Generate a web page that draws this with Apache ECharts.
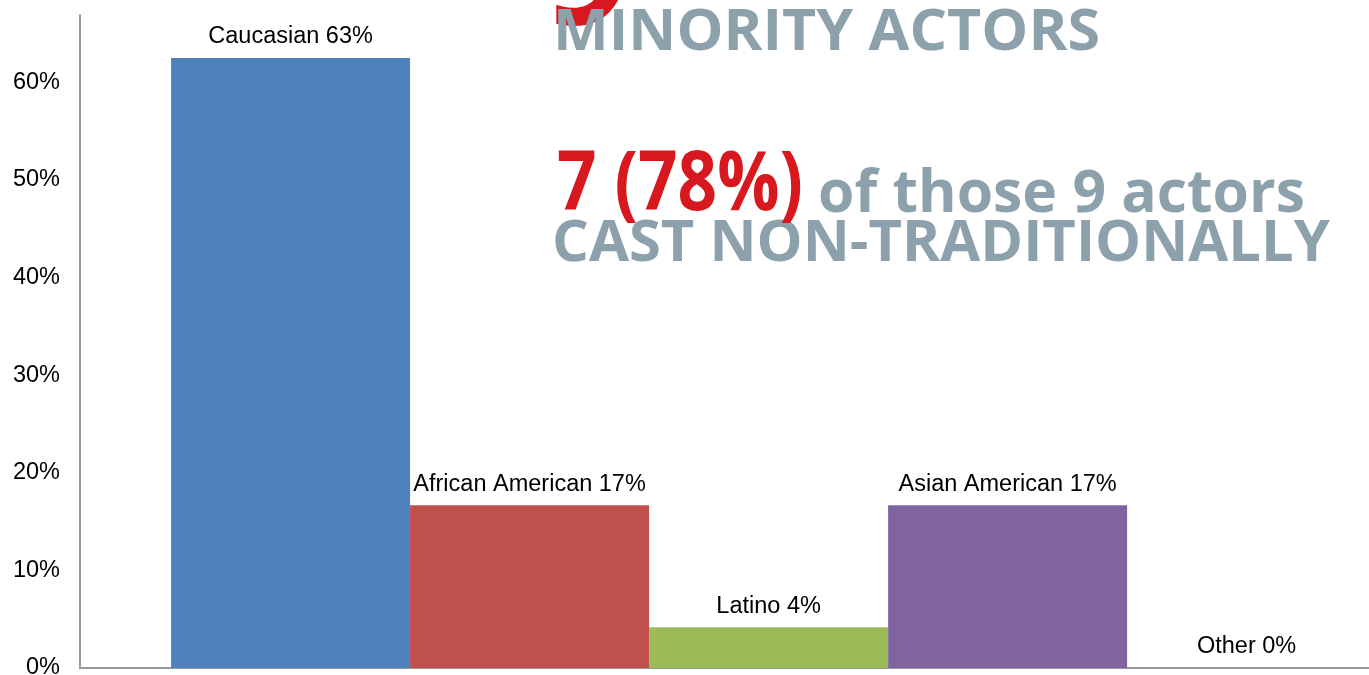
<!DOCTYPE html>
<html>
<head>
<meta charset="utf-8">
<script src="https://cdn.jsdelivr.net/npm/echarts@6/dist/echarts.min.js"></script>
<style>
  html, body { margin: 0; padding: 0; background: #fff; }
  #chart { width: 1369px; height: 675px; }
</style>
</head>
<body>
<div id="chart"></div>
<script>
// cast share by ethnicity (percent of all actors)
var groups = ["Caucasian", "African American", "Latino", "Asian American", "Other"];
var shares = [62.5, 16.67, 4.17, 16.67, 0];
var palette = ["#4f81bd", "#c0504d", "#9bbb59", "#8064a2", "#4bacc6"];

var grey = "#8da1ad";
var red = "#d7191f";
var headFont = '"Open Sans"';

// squeeze a headline horizontally so it spans the given width
var measureCtx = document.createElement("canvas").getContext("2d");
function headline(text, x, yMid, width, size, color) {
	var font = "bold " + size + "px " + headFont;
	measureCtx.font = font;
	var w = measureCtx.measureText(text).width;
	return {
		type: "text",
		x: x,
		y: yMid,
		scaleX: width / w,
		z: 100,
		style: {
			text: text,
			font: font,
			fill: color,
			align: "left",
			verticalAlign: "middle"
		}
	};
}

var chart = echarts.init(document.getElementById("chart"));

// bars sit side by side, one unit wide each, on a plain value axis
var barData = shares.map(function(v, i) {
	return {
		value: [i + 0.5, v],
		itemStyle: { color: palette[i] }
	};
});

var option = {
	animation: false,
	grid: { left: 80, right: 0, top: 15, bottom: 7, outerBoundsMode: "none", containLabel: false },
	xAxis: {
		type: "value",
		min: -0.381,
		max: 5.012,
		splitLine: { show: false },
		axisLine: { show: true, onZero: false, lineStyle: { color: "#999", width: 2 } },
		axisTick: { show: false },
		axisLabel: { show: false }
	},
	yAxis: {
		type: "value",
		min: 0,
		max: 66.9,
		interval: 10,
		splitLine: { show: false },
		axisTick: { show: false },
		axisLine: { show: true, onZero: false, lineStyle: { color: "#999", width: 2 } },
		axisLabel: {
			showMaxLabel: false,
			margin: 20,
			padding: [9, 0, 0, 0],
			color: "#000",
			fontSize: 23.5,
			fontFamily: "Liberation Sans",
			formatter: "{value}%"
		}
	},
	series: [{
		type: "bar",
		barWidth: 239,
		data: barData,
		label: {
			show: true,
			position: "top",
			distance: 9,
			color: "#000",
			fontSize: 23.5,
			fontFamily: "Liberation Sans",
			formatter: function(p) {
				return groups[p.dataIndex] + " " + Math.round(p.value[1]) + "%";
			}
		}
	}],
	graphic: [
		{
			type: "text",
			x: 550,
			y: 57,
			z: 99,
			style: {
				text: "9",
				font: "italic bold 150px " + headFont,
				fill: red,
				align: "left",
				verticalAlign: "bottom"
			}
		},
		headline("MINORITY ACTORS", 553, 33, 547, 58, grey),
		headline("CAST NON-TRADITIONALLY", 552, 244, 778, 58, grey),
		headline("of those 9 actors", 818, 195, 487, 59, grey),
		headline("7 (78%)", 557, 187, 246, 82, red)
	]
};
chart.setOption(option);
</script>
</body>
</html>
